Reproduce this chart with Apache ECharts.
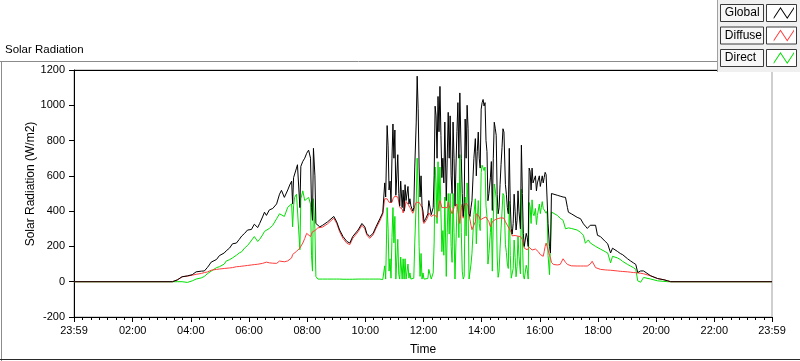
<!DOCTYPE html>
<html><head><meta charset="utf-8">
<script src="https://cdn.jsdelivr.net/npm/echarts@6/dist/echarts.min.js"></script>
<style>html,body{margin:0;padding:0;background:#fff}#c{width:800px;height:361px}</style>
</head><body><div id="c"></div>
<script>
const FONT = "'Liberation Sans',Arial,sans-serif";

// time of day in minutes (−1 = 23:59 of the previous day)
const timeMin = [
-1,202,212,222,233,243,251,262,268,274,278,282,293,299,303,309,313,320,326,334,340,345,351,357,361,365,371,378,382,388,392,396,402,409,417,423,427,433,440,444,448,450,452,454,458,460,465,467,471,475,479,483,487,489,491,493,496,498,502,506,512,522,535,541,547,554,562,568,574,578,585,593,599,603,609,616,622,626,630,
636,640,642,645,647,649,651,653,655,657,659,661,663,665,667,669,671,673,676,678,680,682,684,686,688,690,692,694,696,698,700,702,705,707,709,711,713,715,717,719,721,723,725,729,731,733,736,738,740,742,744,746,748,750,752,754,756,758,760,762,764,767,769,771,773,775,777,779,781,783,785,787,789,791,793,795,798,800,802,804,806,808,810,812,814,
816,818,820,822,824,827,829,831,833,835,837,839,841,843,845,847,849,851,853,855,858,860,862,864,866,868,870,872,874,876,878,880,882,884,886,889,891,893,895,897,899,901,903,905,907,909,911,913,915,917,920,922,924,926,928,930,932,934,936,938,940,942,944,946,948,951,953,955,957,959,961,963,965,967,969,971,973,975,977,980,982,984,
988,996,1002,1008,1013,1017,1019,1025,1029,1037,1044,1050,1054,1058,1060,1064,1068,1075,1079,1085,1095,1100,1106,1110,1120,1126,1131,1141,1147,1153,1158,1162,1168,1174,1178,1189,1203,1216,1224,1230,1439];

const globalRad = [
0,0,10,28,33,40,56,60,61,80,95,111,126,148,155,163,175,191,215,219,240,259,274,293,294,296,326,307,330,367,394,376,407,415,441,496,518,478,520,548,570,441,590,598,644,663,420,654,682,700,728,746,700,422,348,756,600,330,320,311,320,339,370,339,293,256,228,219,256,265,293,330,311,274,256,274,311,320,357,
392,560,480,885,770,520,570,450,700,894,700,860,490,495,720,500,430,570,420,520,400,550,460,470,540,440,470,430,440,400,420,650,900,1165,980,650,480,600,430,400,340,332,360,385,460,460,380,370,420,600,995,940,700,1050,850,1107,830,590,700,560,905,460,700,960,700,940,600,500,905,700,430,650,850,1015,700,1070,700,500,370,450,922,700,1000,867,385,
370,420,459,459,700,811,600,737,848,700,644,978,1015,1033,996,1015,800,737,459,500,589,681,404,700,904,870,830,496,385,420,552,663,760,867,848,552,496,420,385,756,441,300,270,330,496,400,293,348,515,400,300,774,500,274,200,210,274,250,200,644,626,520,644,560,552,600,515,560,552,600,540,570,600,560,590,620,607,617,330,200,163,500,
506,490,485,480,478,420,394,385,376,365,357,328,315,302,310,320,320,320,263,256,228,215,163,190,172,160,153,130,118,107,98,52,61,61,61,33,18,11,5,0,0];

const diffuseRad = [
0,0,10,28,32,37,42,47,52,55,58,65,70,72,74,75,76,78,80,85,86,88,90,92,94,95,97,99,100,104,108,111,107,105,104,117,118,113,118,122,135,154,158,162,172,178,191,200,219,245,274,265,256,270,283,283,290,300,305,302,310,328,360,330,283,245,218,210,245,255,283,320,300,265,246,265,302,312,345,
383,470,470,470,465,450,440,445,450,470,480,485,485,487,480,470,422,430,412,390,388,420,455,460,440,430,420,420,420,388,400,430,450,460,460,450,460,440,420,345,330,322,345,367,390,400,370,360,380,380,375,370,365,410,440,460,440,420,410,415,420,430,420,450,430,430,400,385,400,420,420,430,440,440,450,330,420,440,360,430,440,445,440,430,375,
350,320,295,293,320,340,385,385,385,370,350,350,355,360,360,365,367,367,360,340,311,320,340,348,350,352,356,356,358,360,360,362,365,367,360,340,330,320,310,300,293,280,260,256,260,262,265,262,258,256,256,250,240,237,190,195,181,181,185,195,200,190,180,172,178,185,191,185,170,160,154,150,146,144,170,200,219,217,180,150,135,110,
98,95,98,130,110,98,95,90,89,89,89,89,89,89,89,100,116,80,75,70,67,66,65,64,61,59,58,56,54,52,51,50,48,45,40,33,18,11,5,0,0];

const directRad = [
0,0,0,0,-4,5,15,22,30,45,52,60,80,85,89,100,117,125,135,150,163,170,191,205,219,225,256,228,240,265,285,275,302,320,357,385,394,370,422,430,441,311,430,478,496,490,181,470,515,460,450,478,440,150,60,470,300,30,15,15,15,15,15,15,15,14,14,14,14,14,15,15,15,15,15,15,15,15,15,
12,90,15,420,300,60,130,20,250,420,220,370,15,15,240,40,15,140,15,130,15,130,15,20,100,20,50,15,25,15,20,220,450,700,520,200,30,160,15,50,15,15,15,18,70,60,15,15,50,220,650,560,330,680,400,650,390,170,290,150,480,30,280,500,270,500,200,110,500,280,15,220,410,560,250,720,280,60,15,30,480,260,560,440,15,
18,100,160,165,380,470,215,350,460,330,290,620,660,670,630,650,430,370,100,160,280,360,60,350,554,520,474,140,25,60,190,300,395,500,488,212,166,100,75,456,148,20,15,74,236,138,28,86,257,144,44,524,260,37,15,15,93,69,15,449,426,330,464,388,374,415,324,375,382,440,386,420,454,416,420,420,388,400,150,40,33,395,
404,376,360,348,300,311,305,302,295,293,280,263,218,225,237,220,210,200,190,185,170,163,107,144,135,126,115,98,89,80,70,5,-3,24,20,15,5,2,0,0,0];

const seriesNames = ['Global', 'Diffuse', 'Direct'];
const seriesColors = ['#000000', '#ff3c3c', '#00e000'];
const xTickValues = [-1,120,240,360,480,600,720,840,960,1080,1200,1320,1439];
const yMin = -200, yMax = 1200, yStep = 200;

const valuesBySeries = [globalRad, diffuseRad, directRad];
function pairs(vals) { return timeMin.map((t, i) => [t, vals[i]]); }
function fmtTime(v) {
  const m = ((Math.round(v) % 1440) + 1440) % 1440;
  const h = Math.floor(m / 60), mm = m % 60;
  return (h < 10 ? '0' : '') + h + ':' + (mm < 10 ? '0' : '') + mm;
}
const minorTicks = [];
for (let k = 0; k < xTickValues.length - 1; k++) {
  const a = xTickValues[k], b = xTickValues[k + 1];
  for (let j = 1; j < 7; j++) minorTicks.push(a + (b - a) * j / 7);
}

const chart = echarts.init(document.getElementById('c'), null, {renderer: 'canvas'});
const tickTxt = {fontFamily: FONT, fontSize: 11, color: '#000'};
const nameTxt = {fontFamily: FONT, fontSize: 12, color: '#000'};
const boxTops = [4.5, 27, 49.5];
const graphics = [
  {type: 'line', shape: {x1: 0, y1: 61.5, x2: 717, y2: 61.5}, style: {stroke: '#8c8c8c', lineWidth: 1}, z: 5},
  {type: 'line', shape: {x1: 1.5, y1: 61, x2: 1.5, y2: 361}, style: {stroke: '#8c8c8c', lineWidth: 1}, z: 5},
  {type: 'line', shape: {x1: 0, y1: 359.5, x2: 800, y2: 359.5}, style: {stroke: '#2a2a2a', lineWidth: 1}, z: 5},
  {type: 'rect', shape: {x: 717, y: 0, width: 83, height: 72}, style: {fill: '#f0f0f0'}, z: 10},
  {type: 'line', shape: {x1: 717.5, y1: 0, x2: 717.5, y2: 72}, style: {stroke: '#a0a0a0', lineWidth: 1}, z: 11},
  {type: 'text', x: 31, y: 184, rotation: Math.PI / 2,
   style: {text: 'Solar Radiation (W/m2)', fontFamily: FONT, fontSize: 12, fill: '#000', align: 'center', verticalAlign: 'middle'}, z: 5}
];
boxTops.forEach(t => {
  graphics.push({type: 'rect', shape: {x: 720.5, y: t, width: 43, height: 17}, style: {fill: '#f7f7f7', stroke: '#3a3a3a', lineWidth: 1}, z: 12});
  graphics.push({type: 'rect', shape: {x: 766.5, y: t, width: 30, height: 17}, style: {fill: '#ffffff', stroke: '#3a3a3a', lineWidth: 1}, z: 12});
});

chart.setOption({
  animation: false,
  backgroundColor: '#ffffff',
  title: {text: 'Solar Radiation', left: 5, top: 44, padding: 0,
    textStyle: {fontFamily: FONT, fontSize: 11.5, fontWeight: 'normal', color: '#000'}},
  legend: {
    orient: 'vertical', right: 6, top: 7, padding: 0, align: 'right',
    itemWidth: 24, itemHeight: 12, itemGap: 10.5, selectedMode: false, z: 20,
    icon: 'path://M0,12 L8,0 L16,12 L24,0 L24,2.2 L16,14.2 L8,2.2 L0,14.2 Z',
    data: seriesNames,
    formatter: '{a|{name}}',
    textStyle: {color: '#000', fontSize: 12, lineHeight: 12,
      rich: {a: {width: 42, align: 'left', fontFamily: FONT, fontSize: 12, lineHeight: 12, color: '#000'}}}
  },
  graphic: {elements: graphics},
  grid: {left: 74, top: 70, right: 28, bottom: 39, show: true, borderColor: '#a0a0a0', borderWidth: 1, backgroundColor: '#fff'},
  xAxis: [
    {type: 'value', min: -1, max: 1439, position: 'bottom',
     name: 'Time', nameLocation: 'middle', nameGap: 27, nameTextStyle: nameTxt,
     axisLine: {show: true, onZero: false, lineStyle: {color: '#000', width: 1}},
     axisTick: {show: true, length: 5, customValues: xTickValues, lineStyle: {color: '#000'}},
     axisLabel: {customValues: xTickValues, formatter: fmtTime, margin: 8, ...tickTxt},
     splitLine: {show: false}},
    {type: 'value', min: -1, max: 1439, position: 'bottom',
     axisLine: {show: false, onZero: false},
     axisTick: {show: true, length: 3, customValues: minorTicks, lineStyle: {color: '#000'}},
     axisLabel: {show: false}, splitLine: {show: false}},
    {type: 'value', min: -1, max: 1439, position: 'top',
     axisLine: {show: true, onZero: false, lineStyle: {color: '#000', width: 1}},
     axisTick: {show: false}, axisLabel: {show: false}, splitLine: {show: false}}
  ],
  yAxis: [{type: 'value', min: yMin, max: yMax, interval: yStep,
    axisLine: {show: true, onZero: false, lineStyle: {color: '#000', width: 1}},
    axisTick: {show: true, length: 5, lineStyle: {color: '#000'}},
    axisLabel: {margin: 9, formatter: v => String(v), ...tickTxt},
    splitLine: {show: false}}],
  series: seriesNames.map((n, i) => ({
    name: n, type: 'line', xAxisIndex: 0, yAxisIndex: 0,
    data: pairs(valuesBySeries[i]),
    showSymbol: false, symbol: 'none', silent: true,
    color: seriesColors[i],
    lineStyle: {width: 1, color: seriesColors[i]},
    itemStyle: {color: seriesColors[i]},
    z: 4 - i
  }))
});
</script></body></html>
